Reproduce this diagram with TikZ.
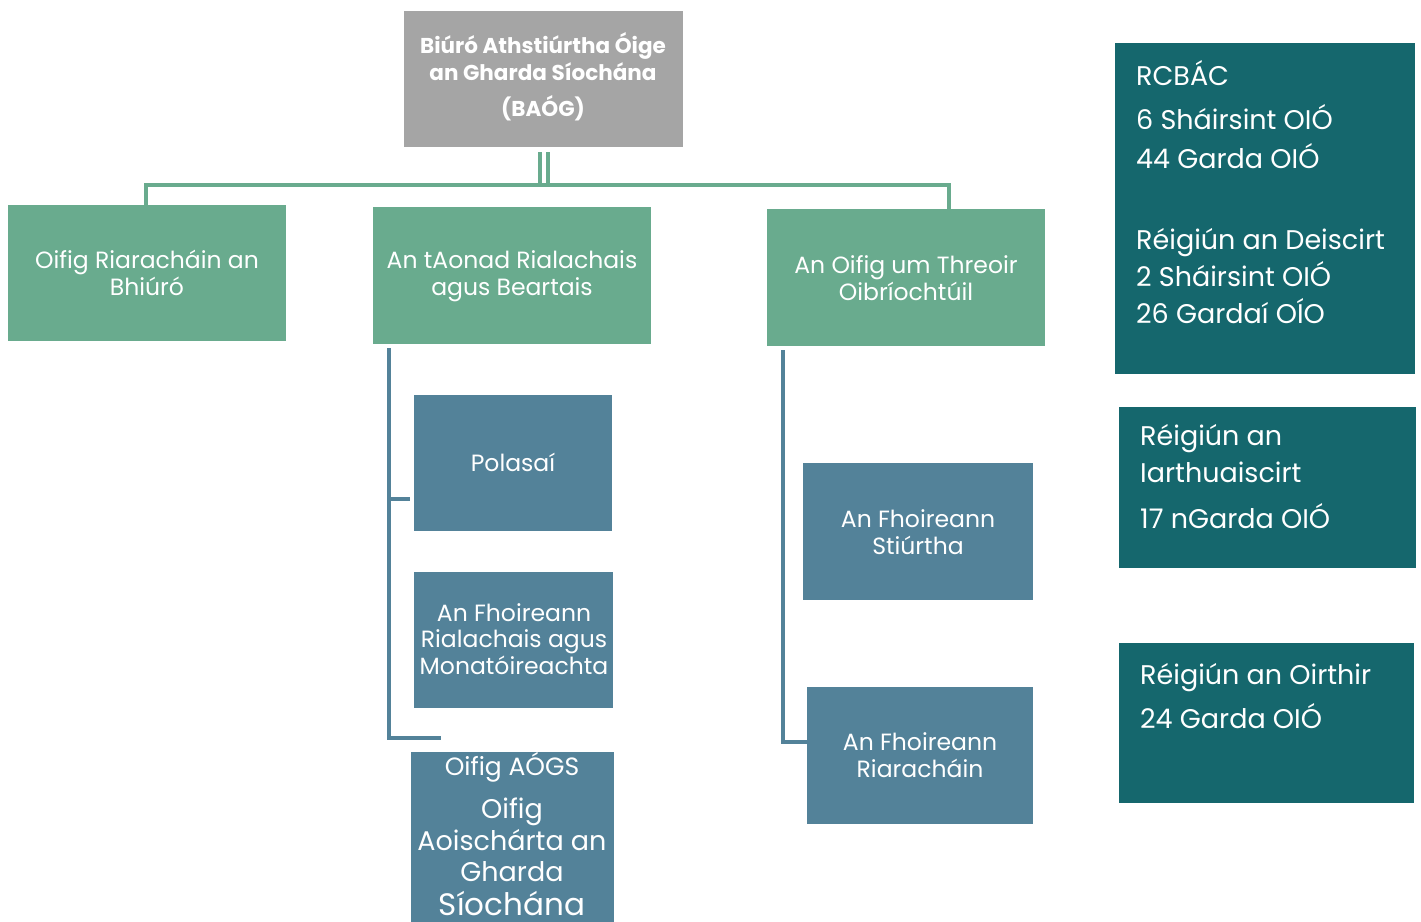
\documentclass[tikz,border=0pt]{standalone}
\usepackage{fontspec}
\setmainfont{Poppins}
\definecolor{boxgreen}{HTML}{69AB8E}
\definecolor{boxblue}{HTML}{538299}
\definecolor{boxteal}{HTML}{15676D}
\definecolor{boxgray}{HTML}{A5A5A5}
\begin{document}
\begin{tikzpicture}[x=1pt,y=-1pt,
  box/.style={draw=none,inner sep=0pt,outer sep=0pt,anchor=north west},
  graybox/.style={box,fill=boxgray},
  greenbox/.style={box,fill=boxgreen},
  bluebox/.style={box,fill=boxblue},
  tealbox/.style={box,fill=boxteal},
  ctext/.style={text=white,align=center,inner sep=0pt,font=\fontsize{23.5}{26.5}\selectfont},
  ttext/.style={text=white,align=left,inner sep=0pt,anchor=west,font=\fontsize{27}{37}\selectfont},
  gline/.style={draw=boxgreen,line width=4pt},
  bline/.style={draw=boxblue,line width=4pt}]
\useasboundingbox (0,0) rectangle (1421,921);
% top box
\node[graybox,minimum width=279pt,minimum height=136pt] (top) at (404,11) {};
\node[ctext,font=\bfseries\fontsize{21.5}{27}\selectfont] (toptext) at (543,77) {Biúró Athstiúrtha Óige\\an Gharda Síochána\\[9pt](BAÓG)};
% green boxes
\node[greenbox,minimum width=278pt,minimum height=136pt] (g1) at (8,205) {};
\node[ctext] (g1t) at (147,273) {Oifig Riaracháin an\\Bhiúró};
\node[greenbox,minimum width=278pt,minimum height=137pt] (g2) at (373,207) {};
\node[ctext] (g2t) at (512,276) {An tAonad Rialachais\\agus Beartais};
\node[greenbox,minimum width=278pt,minimum height=137pt] (g3) at (767,209) {};
\node[ctext] (g3t) at (906,278) {An Oifig um Threoir\\Oibríochtúil};
% blue boxes
\node[bluebox,minimum width=198pt,minimum height=136pt] (b1) at (414,395) {};
\node[ctext] (b1t) at (513,462) {Polasaí};
\node[bluebox,minimum width=199pt,minimum height=136pt] (b2) at (414,572) {};
\node[ctext] (b2t) at (514,639) {An Fhoireann\\Rialachais agus\\Monatóireachta};
\node[bluebox,minimum width=203pt,minimum height=170pt] (b3) at (411,752) {};
\node[ctext,font=\fontsize{25}{30}\selectfont] (b3a) at (512,767) {Oifig AÓGS};
\node[ctext,font=\fontsize{27}{31.5}\selectfont] (b3b) at (512,840) {Oifig\\Aoischárta an\\Gharda};
\node[ctext,font=\fontsize{31}{31.5}\selectfont] (b3c) at (512,904) {Síochána};
\node[bluebox,minimum width=230pt,minimum height=137pt] (b4) at (803,463) {};
\node[ctext] (b4t) at (918,532) {An Fhoireann\\Stiúrtha};
\node[bluebox,minimum width=226pt,minimum height=137pt] (b5) at (807,687) {};
\node[ctext] (b5t) at (920,755) {An Fhoireann\\Riaracháin};
% teal boxes
\node[tealbox,minimum width=300pt,minimum height=331pt] (t1) at (1115,43) {};
\node[ttext,font=\fontsize{27}{39}\selectfont] (t1t) at (1136,115) {RCBÁC\\[5pt]6 Sháirsint OIÓ\\44 Garda OIÓ};
\node[ttext] (t1u) at (1136,276) {Réigiún an Deiscirt\\2 Sháirsint OIÓ\\26 Gardaí OÍO};
\node[tealbox,minimum width=297pt,minimum height=161pt] (t2) at (1119,407) {};
\node[ttext] (t2t) at (1140,477) {Réigiún an\\Iarthuaiscirt\\[9pt]17 nGarda OIÓ};
\node[tealbox,minimum width=295pt,minimum height=160pt] (t3) at (1119,643) {};
\node[ttext,font=\fontsize{27}{44}\selectfont] (t3t) at (1140,696) {Réigiún an Oirthir\\24 Garda OIÓ};
% connectors
\coordinate (bus) at (547,185);
\draw[gline,line width=4pt] ([xshift=-3.5pt,yshift=-5pt]top.south) -- ([xshift=-3.5pt]top.south |- bus);
\draw[gline,line width=4pt] ([xshift=4.5pt,yshift=-5pt]top.south) -- ([xshift=4.5pt]top.south |- bus);
\coordinate (g1c) at ([xshift=-1pt]g1.north);
\coordinate (g3c) at ([xshift=43pt]g3.north);
\draw[gline,line cap=rect] (g1c) -- (g1c |- bus) -- (g3c |- bus) -- (g3c);
% left blue tree
\coordinate (l0) at ([xshift=16pt,yshift=-4pt]g2.south west);
\coordinate (l1) at (l0 |- b2.south);
\draw[bline] (l0) -- ([yshift=-30pt]l1) -- ([yshift=-30pt]l1 -| 441,0);
\draw[bline] (l0 |- b1.center) ++(0,36) -- ++(21,0);
% right blue tree
\coordinate (r0) at ([xshift=16pt,yshift=-4pt]g3.south west);
\coordinate (r1) at ([yshift=14pt]b5.west);
\draw[bline] (r0) -- (r0 |- r1) -- (r1);
\end{tikzpicture}
\end{document}
